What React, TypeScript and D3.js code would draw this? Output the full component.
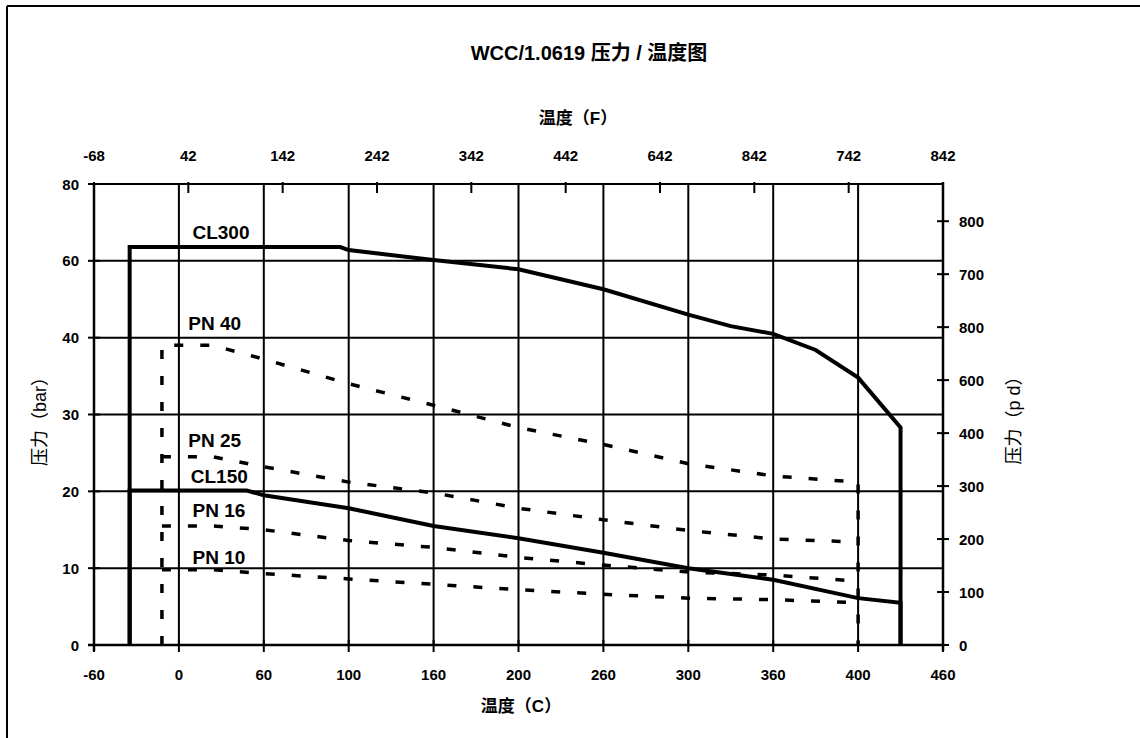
import React from "react";
import * as d3 from "d3";

// ---- data ----
const bottomTicks = [-50, 0, 50, 100, 150, 200, 250, 300, 350, 400, 450];
const bottomTickLabels = ["-60", "0", "60", "100", "160", "200", "260", "300", "360", "400", "460"];
const topTicksF = [-58, 42, 142, 242, 342, 442, 542, 642, 742, 842];
const topTickLabels = ["-68", "42", "142", "242", "342", "442", "642", "842", "742", "842"];
const leftTicks = [0, 10, 20, 30, 40, 50, 60];
const leftTickLabels = ["0", "10", "20", "30", "40", "60", "80"];
const rightTicks = [0, 100, 200, 300, 400, 500, 600, 700, 800];
const rightTickLabels = ["0", "100", "200", "300", "400", "600", "800", "700", "800"];

const cl300Temp = [-29, -29, 95, 100, 150, 200, 250, 300, 325, 350, 375, 400, 425, 425];
const cl300Bar = [0, 51.8, 51.8, 51.4, 50.1, 48.9, 46.3, 43.0, 41.5, 40.5, 38.4, 34.8, 28.3, 0];
const cl150Temp = [-29, -29, 40, 50, 100, 150, 200, 250, 300, 350, 400, 425, 425];
const cl150Bar = [0, 20.1, 20.1, 19.5, 17.8, 15.5, 13.9, 12.0, 10.0, 8.5, 6.1, 5.5, 0];

const pnTemp = [-10, -10, 20, 50, 100, 150, 200, 250, 300, 350, 400, 400];
const pn40Bar = [0, 39.0, 39.0, 37.2, 34.0, 31.2, 28.3, 26.1, 23.6, 22.0, 21.2, 0];
const pn25Bar = [0, 24.5, 24.5, 23.2, 21.2, 19.8, 17.8, 16.3, 14.9, 13.8, 13.4, 0];
const pn16Bar = [0, 15.5, 15.5, 15.0, 13.6, 12.7, 11.4, 10.4, 9.5, 9.1, 8.3, 0];
const pn10Bar = [0, 9.8, 9.8, 9.3, 8.6, 7.9, 7.2, 6.6, 6.1, 5.9, 5.5, 0];

const labelText = ["CL300", "PN 40", "PN 25", "CL150", "PN 16", "PN 10"];
const labelTemp = [8, 5.5, 5.5, 7, 8, 8];
const labelBar = [52.8, 41.0, 25.8, 21.1, 16.7, 10.6];

const title = "WCC/1.0619 压力 / 温度图";
const topTitle = "温度（F）";
const bottomTitle = "温度（C）";
const leftTitle = "压力（bar）";
const rightTitle = "压力（p d）";

const BAR_TO_PSI = 14.5038;

export default function App() {
  const W = 1140;
  const H = 738;
  const x = d3.scaleLinear().domain([-50, 450]).range([94, 943]);
  const y = d3.scaleLinear().domain([0, 60]).range([645, 184]);
  const yPsi = d3.scaleLinear().domain([0, 60 * BAR_TO_PSI]).range([645, 184]);
  const fToC = (f: number) => (f - 32) / 1.8;

  const line = d3
    .line<[number, number]>()
    .x((d) => x(d[0]))
    .y((d) => y(d[1]));
  const mk = (ts: number[], vs: number[]) => line(ts.map((t, i) => [t, vs[i]] as [number, number])) || "";

  const tickFont = "'Liberation Sans',Arial,sans-serif";
  const labelFont = "'Liberation Sans',Arial,sans-serif";
  const cjkFont = "'Liberation Sans','Noto Sans CJK SC',sans-serif";

  const pnSeries = [pn40Bar, pn25Bar, pn16Bar, pn10Bar];

  const tickTextProps = {
    fontFamily: tickFont,
    fontWeight: "bold" as const,
    fontSize: 15,
  };

  return (
    <svg width={W} height={H} style={{ position: "absolute", left: 0, top: 0, background: "#fff" }}>
      <rect x={0} y={0} width={W} height={H} fill="#fff" />
      {/* outer frame */}
      <line x1={7} y1={6} x2={W} y2={6} stroke="#000" strokeWidth={2} />
      <line x1={7} y1={6} x2={7} y2={H} stroke="#000" strokeWidth={2} />

      {/* grid */}
      {leftTicks.map((v) => (
        <line key={"h" + v} x1={x(-50)} x2={x(450)} y1={y(v)} y2={y(v)} stroke="#000" strokeWidth={2} />
      ))}
      {bottomTicks.map((t) => (
        <line key={"v" + t} x1={x(t)} x2={x(t)} y1={y(60)} y2={y(0)} stroke="#000" strokeWidth={2} />
      ))}
      {/* axes */}
      <line x1={x(-50) - 6} x2={x(450)} y1={y(0)} y2={y(0)} stroke="#000" strokeWidth={2.5} />
      <line x1={x(-50)} x2={x(-50)} y1={y(60)} y2={y(0) + 6} stroke="#000" strokeWidth={2.5} />
      <line x1={x(450)} x2={x(450)} y1={y(60) - 2} y2={y(0) + 6} stroke="#000" strokeWidth={2.5} />

      {/* left ticks */}
      {leftTicks.map((v, i) => (
        <g key={"lt" + v}>
          <line x1={x(-50) - 6} x2={x(-50) + 6} y1={y(v)} y2={y(v)} stroke="#000" strokeWidth={2} />
          <text x={79} y={y(v)} textAnchor="end" dominantBaseline="central" {...tickTextProps}>
            {leftTickLabels[i]}
          </text>
        </g>
      ))}
      {/* bottom ticks */}
      {bottomTicks.map((t, i) => (
        <g key={"bt" + t}>
          <line x1={x(t)} x2={x(t)} y1={y(0) - 5} y2={y(0) + 7} stroke="#000" strokeWidth={2} />
          <text x={x(t)} y={674} textAnchor="middle" dominantBaseline="central" {...tickTextProps}>
            {bottomTickLabels[i]}
          </text>
        </g>
      ))}
      {/* top ticks (F) */}
      {topTicksF.map((f, i) => (
        <g key={"tt" + f}>
          <line x1={x(fToC(f))} x2={x(fToC(f))} y1={y(60) - 2} y2={y(60) + 9} stroke="#000" strokeWidth={2} />
          <text x={x(fToC(f))} y={155} textAnchor="middle" dominantBaseline="central" {...tickTextProps}>
            {topTickLabels[i]}
          </text>
        </g>
      ))}
      {/* right ticks (psi) */}
      {rightTicks.map((p, i) => (
        <g key={"rt" + p}>
          <line x1={x(450) - 6} x2={x(450) + 6} y1={yPsi(p)} y2={yPsi(p)} stroke="#000" strokeWidth={2} />
          <text x={959} y={yPsi(p)} textAnchor="start" dominantBaseline="central" {...tickTextProps}>
            {rightTickLabels[i]}
          </text>
        </g>
      ))}

      {/* PN series (dashed); drop lines drawn once with the outer (PN 40) series */}
      {pnSeries.map((vs, i) => (
        <path
          key={"pn" + i}
          d={i === 0 ? mk(pnTemp, vs) : mk(pnTemp.slice(1, -1), vs.slice(1, -1))}
          fill="none"
          stroke="#000"
          strokeWidth={3.5}
          strokeDasharray="9,17"
        />
      ))}
      {/* CL series (solid) */}
      <path d={mk(cl300Temp, cl300Bar)} fill="none" stroke="#000" strokeWidth={4} strokeLinejoin="miter" />
      <path d={mk(cl150Temp, cl150Bar)} fill="none" stroke="#000" strokeWidth={4} strokeLinejoin="miter" />

      {/* series labels */}
      {labelText.map((s, i) => (
        <text key={s} x={x(labelTemp[i])} y={y(labelBar[i])} fontFamily={labelFont} fontWeight="bold" fontSize={19}>
          {s}
        </text>
      ))}

      {/* titles */}
      <text x={589} y={60} textAnchor="middle" fontFamily={cjkFont} fontWeight="bold" fontSize={20}>
        {title}
      </text>
      <text x={578} y={124} textAnchor="middle" fontFamily={cjkFont} fontWeight="bold" fontSize={17}>
        {topTitle}
      </text>
      <text x={521} y={712} textAnchor="middle" fontFamily={cjkFont} fontWeight="bold" fontSize={17}>
        {bottomTitle}
      </text>
      <text transform={`translate(46,417) rotate(-90)`} textAnchor="middle" fontFamily={cjkFont} fontSize={18}>
        {leftTitle}
      </text>
      <text transform={`translate(1020,416) rotate(-90)`} textAnchor="middle" fontFamily={cjkFont} fontSize={18}>
        {rightTitle}
      </text>
    </svg>
  );
}
